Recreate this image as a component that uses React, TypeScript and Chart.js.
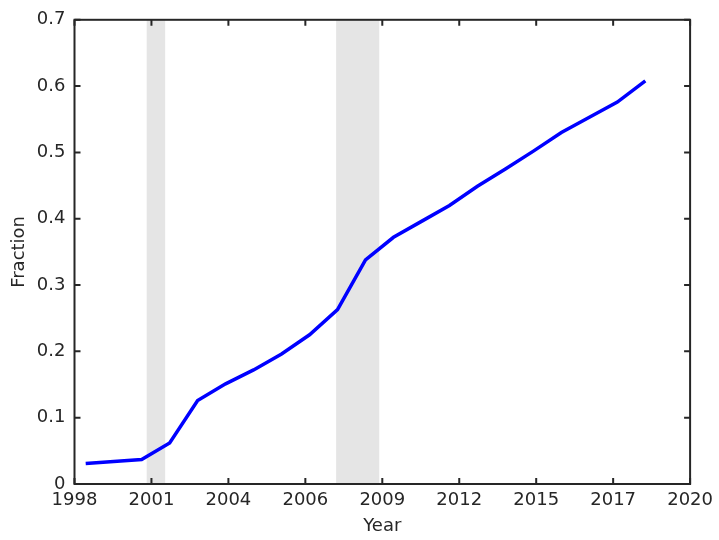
import React, { useEffect, useRef } from 'react';
import { Chart, registerables } from 'chart.js';

Chart.register(...registerables);

// Data
const years = [
  1998.4, 1999.4, 2000.4, 2001.4, 2002.4, 2003.4, 2004.4, 2005.4, 2006.4, 2007.4,
  2008.4, 2009.4, 2010.4, 2011.4, 2012.4, 2013.4, 2014.4, 2015.4, 2016.4, 2017.4, 2018.4,
];
const fraction = [
  0.031, 0.034, 0.037, 0.062, 0.126, 0.151, 0.172, 0.196, 0.225, 0.263,
  0.338, 0.372, 0.396, 0.42, 0.449, 0.475, 0.502, 0.53, 0.553, 0.576, 0.608,
];
const shadeStart = [2000.58, 2007.35];
const shadeEnd = [2001.24, 2008.89];
const xTickValues = [1998, 2000.75, 2003.5, 2006.25, 2009, 2011.75, 2014.5, 2017.25, 2020];
const xTickLabels = ['1998', '2001', '2004', '2006', '2009', '2012', '2015', '2017', '2020'];
const yTickValues = [0, 0.1, 0.2, 0.3, 0.4, 0.5, 0.6, 0.7];
const yTickLabels = ['0', '0.1', '0.2', '0.3', '0.4', '0.5', '0.6', '0.7'];

const AXIS = '#262626';
const FONT = 'DejaVu Sans';
const FONT_SIZE = 18;
const TICK_LEN = 6;

const framePlugin = {
  id: 'frame',
  beforeDatasetsDraw(chart: any) {
    const { ctx, chartArea, scales } = chart;
    const { top, bottom } = chartArea;
    const x = scales.x;
    ctx.save();
    ctx.fillStyle = '#e5e5e5';
    shadeStart.forEach((s, i) => {
      const x0 = x.getPixelForValue(s);
      const x1 = x.getPixelForValue(shadeEnd[i]);
      ctx.fillRect(x0, top, x1 - x0, bottom - top);
    });
    ctx.restore();
  },
  afterDatasetsDraw(chart: any) {
    const { ctx, chartArea, scales } = chart;
    const { left, right, top, bottom } = chartArea;
    ctx.save();
    ctx.strokeStyle = AXIS;
    ctx.lineWidth = 2;
    ctx.beginPath();
    xTickValues.forEach((v) => {
      const px = scales.x.getPixelForValue(v);
      ctx.moveTo(px, bottom);
      ctx.lineTo(px, bottom - TICK_LEN);
      ctx.moveTo(px, top);
      ctx.lineTo(px, top + TICK_LEN);
    });
    yTickValues.forEach((v) => {
      const py = scales.y.getPixelForValue(v);
      ctx.moveTo(left, py);
      ctx.lineTo(left + TICK_LEN, py);
      ctx.moveTo(right, py);
      ctx.lineTo(right - TICK_LEN, py);
    });
    ctx.stroke();
    ctx.strokeRect(left, top, right - left, bottom - top);
    ctx.restore();
  },
};

export default function App() {
  const ref = useRef<HTMLCanvasElement | null>(null);

  useEffect(() => {
    if (!ref.current) return;
    const chart = new Chart(ref.current, {
      type: 'line',
      data: {
        datasets: [
          {
            data: years.map((y, i) => ({ x: y, y: fraction[i] })),
            borderColor: '#0000ff',
            borderWidth: 3.5,
            pointRadius: 0,
            tension: 0,
            fill: false,
          },
        ],
      },
      options: {
        animation: false,
        responsive: false,
        devicePixelRatio: 1,
        layout: { padding: { top: 13, right: 26.5, left: 0, bottom: 0 } },
        plugins: { legend: { display: false }, tooltip: { enabled: false } },
        scales: {
          x: {
            type: 'linear',
            min: 1998,
            max: 2020,
            afterBuildTicks: (s: any) => {
              s.ticks = xTickValues.map((v) => ({ value: v }));
            },
            afterFit: (s: any) => {
              s.height = 56;
            },
            ticks: {
              autoSkip: false,
              maxRotation: 0,
              padding: 6,
              color: AXIS,
              font: { family: FONT, size: FONT_SIZE },
              callback: (_v: any, i: number) => xTickLabels[i],
            },
            grid: { display: false, drawTicks: false },
            border: { display: false },
            title: {
              display: true,
              text: 'Year',
              color: AXIS,
              font: { family: FONT, size: FONT_SIZE },
              padding: { top: 0, bottom: 3 },
            },
          },
          y: {
            type: 'linear',
            min: 0,
            max: 0.7,
            afterBuildTicks: (s: any) => {
              s.ticks = yTickValues.map((v) => ({ value: v }));
            },
            afterFit: (s: any) => {
              s.width = 74.5;
            },
            ticks: {
              autoSkip: false,
              padding: 9,
              color: AXIS,
              font: { family: FONT, size: FONT_SIZE },
              callback: (_v: any, i: number) => yTickLabels[i],
            },
            grid: { display: false, drawTicks: false },
            border: { display: false },
            title: {
              display: true,
              text: 'Fraction',
              color: AXIS,
              font: { family: FONT, size: FONT_SIZE },
              padding: { top: 9, bottom: 0 },
            },
          },
        },
      },
      plugins: [framePlugin],
    });
    return () => chart.destroy();
  }, []);

  return (
    <div style={{ position: 'fixed', left: 0, top: 0, width: 719, height: 540, background: '#fff' }}>
      <canvas ref={ref} width={719} height={540} style={{ width: 719, height: 540, display: 'block' }} />
    </div>
  );
}
